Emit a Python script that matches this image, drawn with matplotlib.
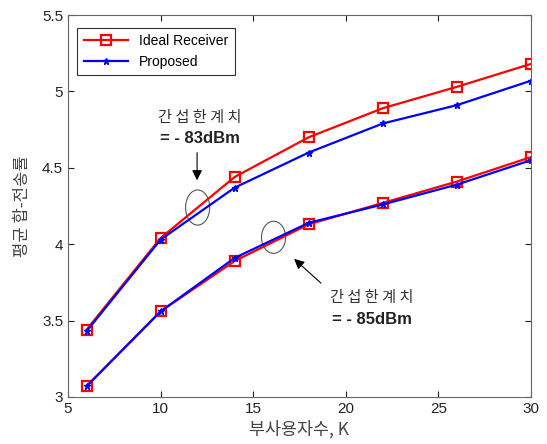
import matplotlib
matplotlib.use("Agg")
import matplotlib.pyplot as plt
from matplotlib.patches import Ellipse

plt.rcParams["font.family"] = ["Liberation Sans", "Noto Sans CJK KR", "DejaVu Sans"]

# ── Data ─────────────────────────────────────────────────────────────────────
K = [6, 10, 14, 18, 22, 26, 30]
ideal_83 = [3.44, 4.04, 4.44, 4.70, 4.89, 5.03, 5.18]
prop_83 = [3.43, 4.03, 4.37, 4.60, 4.79, 4.91, 5.07]
ideal_85 = [3.07, 3.56, 3.89, 4.13, 4.27, 4.41, 4.57]
prop_85 = [3.07, 3.56, 3.91, 4.14, 4.26, 4.39, 4.55]

x_ticks = [5, 10, 15, 20, 25, 30]
y_ticks = [3, 3.5, 4, 4.5, 5, 5.5]
y_ticklabels = ["3", "3.5", "4", "4.5", "5", "5.5"]

KOR = ["Noto Sans CJK KR", "DejaVu Sans"]

fig = plt.figure(figsize=(5.47, 4.44), dpi=100)
ax = fig.add_axes([0.1243, 0.1059, 0.8464, 0.8603])

RED = "#ff0000"
BLUE = "#0000ff"

ax.plot(K, ideal_83, color=RED, lw=1.6, marker="s", ms=7, mfc="none",
        mec=RED, mew=1.6, label="Ideal Receiver")
ax.plot(K, prop_83, color=BLUE, lw=1.6, marker="*", ms=5, mec=BLUE,
        label="Proposed")
ax.plot(K, ideal_85, color=RED, lw=1.6, marker="s", ms=7, mfc="none",
        mec=RED, mew=1.6)
ax.plot(K, prop_85, color=BLUE, lw=1.6, marker="*", ms=5, mec=BLUE)

# ellipses marking curve groups
ax.add_patch(Ellipse((12.0, 4.24), 1.3, 0.23, fill=False, ec="#555555", lw=0.8))
ax.add_patch(Ellipse((16.1, 4.045), 1.3, 0.21, fill=False, ec="#555555", lw=0.8))

# annotations
ax.annotate("", xy=(11.97, 4.40), xytext=(11.97, 4.617),
            arrowprops=dict(arrowstyle="-|>", color="black", lw=0.8,
                            mutation_scale=15))
ax.text(12.13, 4.832, "간 섭 한 계 치", family=KOR, fontsize=11, ha="center",
        va="center", color="#333333")
ax.text(12.13, 4.695, "= - 83dBm", fontsize=12, fontweight="bold", ha="center",
        va="center", color="#222222")

ax.annotate("", xy=(17.10, 3.916), xytext=(18.77, 3.733),
            arrowprops=dict(arrowstyle="-|>", color="black", lw=0.8,
                            mutation_scale=15))
ax.text(21.39, 3.654, "간 섭 한 계 치", family=KOR, fontsize=11, ha="center",
        va="center", color="#333333")
ax.text(21.39, 3.51, "= - 85dBm", fontsize=12, fontweight="bold", ha="center",
        va="center", color="#222222")

ax.set_xlim(5, 30)
ax.set_ylim(3, 5.5)
ax.set_xticks(x_ticks)
ax.set_yticks(y_ticks)
ax.set_yticklabels(y_ticklabels)
ax.tick_params(direction="in", length=4, labelsize=11, colors="#222222",
               top=True, right=True)
for sp in ax.spines.values():
    sp.set_color("#666666")

ax.set_xlabel("부사용자수, K", family=KOR, fontsize=12.5, color="#444444", labelpad=3)
ax.set_ylabel("평균 합-전송률", family=KOR, fontsize=12, color="#444444", labelpad=8)

leg = ax.legend(loc="upper left", fontsize=10, fancybox=False, framealpha=1,
                edgecolor="#333333", handlelength=3.2, borderpad=0.45,
                bbox_to_anchor=(0.005, 0.985))
leg.get_frame().set_linewidth(0.8)

fig.savefig("out.png", dpi=100)
